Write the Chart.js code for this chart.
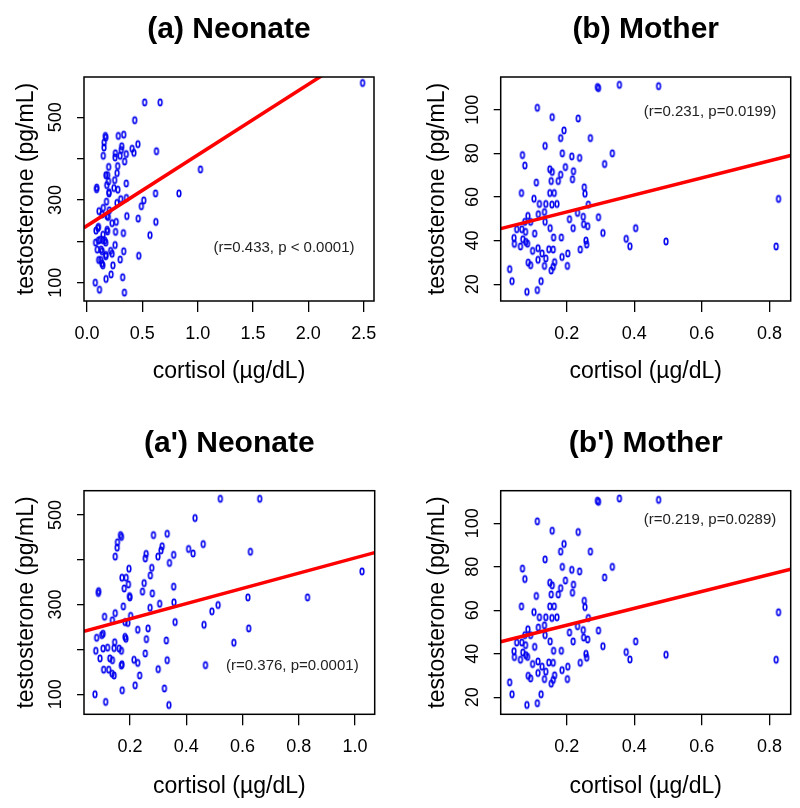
<!DOCTYPE html>
<html>
<head>
<meta charset="utf-8">
<title>Cortisol vs testosterone</title>
<script src="https://cdn.jsdelivr.net/npm/chart.js@4.4.0/dist/chart.umd.min.js"></script>
<style>
  body { margin: 0; background: #fff; }
  #wrap { position: relative; width: 800px; height: 808px; }
  #wrap canvas { position: absolute; }
</style>
</head>
<body>
<div id="wrap">
  <canvas id="chartA" width="400" height="404" style="left:0;top:0"></canvas>
  <canvas id="chartB" width="400" height="404" style="left:400px;top:0"></canvas>
  <canvas id="chartA2" width="400" height="404" style="left:0;top:404px"></canvas>
  <canvas id="chartB2" width="400" height="404" style="left:400px;top:404px"></canvas>
</div>
<script>
// Neonate cortisol (ug/dL) and testosterone (pg/mL)
const neonateCortisol = [0.521, 0.661, 0.431, 0.166, 0.169, 0.155, 0.154, 0.147, 0.283, 0.332,
  0.314, 0.310, 0.299, 0.257, 0.254, 0.355, 0.340, 0.408, 0.424, 0.460,
  0.628, 0.277, 0.272, 0.196, 0.171, 0.186, 0.194, 0.179, 0.250, 0.244,
  0.279, 0.355, 0.198, 0.199, 0.088, 0.087, 1.025, 0.176, 0.147, 0.109,
  0.137, 0.271, 0.305, 0.356, 0.513, 0.491, 0.619, 0.831, 0.182, 0.202,
  0.192, 0.360, 0.463, 0.622, 0.227, 0.264, 0.081, 0.104, 0.099, 0.182,
  0.185, 0.258, 0.329, 0.569, 0.078, 0.104, 0.120, 0.145, 0.143, 0.161,
  0.169, 0.093, 0.128, 0.137, 0.254, 0.332, 0.214, 0.227, 0.171, 0.169,
  0.106, 0.124, 0.136, 0.143, 0.300, 0.468, 0.234, 0.218, 0.172, 0.075,
  0.113, 0.322, 0.338];
const neonateTestosterone = [536, 536, 493, 455, 451, 439, 427, 407, 455, 458,
  430, 421, 407, 413, 403, 411, 393, 424, 414, 435,
  418, 382, 365, 380, 360, 360, 345, 336, 348, 329,
  325, 340, 319, 316, 330, 326, 374, 296, 281, 273,
  265, 293, 302, 305, 299, 285, 316, 316, 261, 275,
  259, 261, 255, 247, 244, 247, 226, 235, 232, 228,
  224, 223, 220, 215, 197, 202, 204, 216, 203, 202,
  197, 180, 180, 176, 191, 176, 177, 170, 167, 164,
  155, 155, 146, 142, 156, 165, 142, 120, 109, 100,
  83, 113, 76];
// extra high-cortisol neonate only shown in panel (a)
const neonateOutlierCortisol = [2.49];
const neonateOutlierTestosterone = [583];

// Mother cortisol (ug/dL) and testosterone (pg/mL)
const motherCortisol = [0.291, 0.294, 0.356, 0.472, 0.113, 0.157, 0.234, 0.192, 0.182, 0.270,
  0.136, 0.069, 0.187, 0.215, 0.238, 0.335, 0.076, 0.150, 0.157, 0.196,
  0.220, 0.312, 0.182, 0.175, 0.154, 0.217, 0.110, 0.252, 0.254, 0.066,
  0.150, 0.163, 0.103, 0.119, 0.138, 0.156, 0.171, 0.264, 0.827, 0.134,
  0.232, 0.085, 0.116, 0.249, 0.294, 0.208, 0.076, 0.093, 0.136, 0.250,
  0.262, 0.219, 0.151, 0.052, 0.067, 0.078, 0.105, 0.307, 0.404, 0.044,
  0.070, 0.079, 0.045, 0.063, 0.084, 0.161, 0.184, 0.376, 0.494, 0.387,
  0.257, 0.259, 0.820, 0.099, 0.115, 0.127, 0.147, 0.160, 0.240, 0.203,
  0.186, 0.115, 0.093, 0.086, 0.138, 0.134, 0.164, 0.202, 0.160, 0.154,
  0.031, 0.038, 0.124, 0.082, 0.113];
const motherTestosterone = [110.4, 109.9, 111.4, 110.8, 100.9, 96.6, 96.0, 90.5, 87.0, 87.0,
  83.4, 79.2, 80.0, 78.6, 77.9, 80.0, 74.4, 72.7, 71.5, 73.7,
  71.8, 75.1, 70.2, 67.3, 67.3, 68.1, 66.6, 64.4, 61.5, 61.8,
  61.8, 61.8, 59.2, 56.8, 56.8, 56.5, 56.8, 56.5, 59.1, 53.1,
  52.7, 51.3, 52.1, 50.9, 50.7, 49.8, 48.6, 48.6, 48.6, 47.5,
  46.6, 45.7, 45.7, 45.2, 45.2, 44.0, 43.2, 43.5, 45.7, 41.2,
  40.6, 39.4, 38.5, 37.3, 38.6, 41.4, 41.4, 40.8, 39.6, 37.4,
  40.0, 38.2, 37.3, 35.3, 36.5, 34.1, 36.0, 35.9, 35.9, 34.1,
  32.5, 31.2, 28.7, 29.9, 31.8, 28.4, 30.1, 28.4, 28.0, 26.3,
  26.9, 21.4, 21.4, 16.5, 17.3];

// per panel: (a), (b), (a'), (b')
const panelTitles = ["(a) Neonate", "(b) Mother", "(a') Neonate", "(b') Mother"];
const statLabels = ["(r=0.433, p < 0.0001)", "(r=0.231, p=0.0199)", "(r=0.376, p=0.0001)", "(r=0.219, p=0.0289)"];
const statX = [1.78, 0.624, 0.777, 0.624];
const statY = [184, 98.9, 163.5, 101.5];
const fitIntercepts = [237.7, 45.3, 234.3, 45.4];
const fitSlopes = [171.1, 39.1, 169.8, 38.8];

// tick values and labels
const neonateAllXTicks = [0, 0.5, 1, 1.5, 2, 2.5];
const neonateAllXLabels = ["0.0", "0.5", "1.0", "1.5", "2.0", "2.5"];
const neonateXTicks = [0.2, 0.4, 0.6, 0.8, 1.0];
const neonateXLabels = ["0.2", "0.4", "0.6", "0.8", "1.0"];
const motherXTicks = [0.2, 0.4, 0.6, 0.8];
const motherXLabels = ["0.2", "0.4", "0.6", "0.8"];
const neonateYTicks = [100, 200, 300, 400, 500];
const neonateYLabels = ["100", "", "300", "", "500"];
const motherYTicks = [20, 40, 60, 80, 100];
const motherYLabels = ["20", "40", "60", "80", "100"];

const FONT = "'Liberation Sans', Arial, Helvetica, sans-serif";
const W = 400, H = 404;

// small open ellipse like R's "o" marker
const ring = document.createElement("canvas");
ring.width = 8;
ring.height = 11;
(function () {
  const g = ring.getContext("2d");
  g.strokeStyle = "#0000ee";
  g.lineWidth = 1.6;
  g.beginPath();
  g.ellipse(4, 5.5, 1.8, 3.1, 0, 0, Math.PI * 2);
  g.stroke();
})();

const framePlugin = {
  id: "frame",
  afterDraw(chart) {
    const { ctx, chartArea: c } = chart;
    ctx.save();
    ctx.strokeStyle = "#000";
    ctx.lineWidth = 1.5;
    ctx.strokeRect(c.left, c.top, c.right - c.left, c.bottom - c.top);
    ctx.restore();
  },
};

const statPlugin = {
  id: "stat",
  afterDatasetsDraw(chart, args, opts) {
    const ctx = chart.ctx;
    ctx.save();
    ctx.fillStyle = "#222";
    ctx.font = "15px " + FONT;
    ctx.textAlign = "center";
    ctx.textBaseline = "middle";
    ctx.fillText(opts.text, chart.scales.x.getPixelForValue(opts.x), chart.scales.y.getPixelForValue(opts.y));
    ctx.restore();
  },
};

function buildPanel(p) {
  const i = p.idx;
  const box = p.box;
  const pts = p.xs.map((x, k) => ({ x: x, y: p.ys[k] }));
  const x0 = p.xRange[0], x1 = p.xRange[1];
  const fit = [
    { x: x0, y: fitIntercepts[i] + fitSlopes[i] * x0 },
    { x: x1, y: fitIntercepts[i] + fitSlopes[i] * x1 },
  ];

  new Chart(document.getElementById(p.canvas), {
    type: "scatter",
    data: {
      datasets: [
        { type: "line", data: fit, borderColor: "#ff0000", borderWidth: 3.5, pointRadius: 0, fill: false, clip: 0 },
        { data: pts, pointStyle: ring, pointRadius: 4, borderColor: "#0000ee", backgroundColor: "#0000ee" },
      ],
    },
    options: {
      responsive: false,
      animation: false,
      events: [],
      layout: { padding: { left: 0, right: W - box.R, top: 0, bottom: 0 } },
      plugins: {
        legend: { display: false },
        tooltip: { enabled: false },
        title: {
          display: true,
          text: panelTitles[i],
          fullSize: false,
          color: "#000",
          font: { family: FONT, size: 30, weight: "bold", lineHeight: 1.2 },
          padding: { top: p.titleY - 18, bottom: box.T - p.titleY - 18 },
        },
        stat: { text: statLabels[i], x: statX[i], y: statY[i] },
      },
      scales: {
        x: {
          type: "linear",
          min: x0,
          max: x1,
          afterFit: (s) => { s.height = H - box.B; },
          afterBuildTicks: (s) => { s.ticks = p.xTicks.map((v) => ({ value: v })); },
          ticks: {
            callback: (v, k) => p.xLabels[k],
            autoSkip: false,
            maxRotation: 0,
            padding: 11,
            color: "#000",
            font: { family: FONT, size: 18 },
          },
          grid: { drawOnChartArea: false, tickLength: 11, color: "#000", lineWidth: 1.3 },
          border: { display: false },
          title: {
            display: true,
            text: "cortisol (\u00b5g/dL)",
            color: "#000",
            font: { family: FONT, size: 23, lineHeight: 1.2 },
            padding: { top: 0, bottom: H - p.xTitleY - 13.8 },
          },
        },
        y: {
          type: "linear",
          min: p.yRange[0],
          max: p.yRange[1],
          afterFit: (s) => { s.width = box.L; },
          afterBuildTicks: (s) => { s.ticks = p.yTicks.map((v) => ({ value: v })); },
          ticks: {
            callback: (v, k) => p.yLabels[k],
            autoSkip: false,
            minRotation: 90,
            maxRotation: 90,
            crossAlign: "center",
            padding: 6,
            color: "#000",
            font: { family: FONT, size: 18 },
          },
          grid: { drawOnChartArea: false, tickLength: 7, color: "#000", lineWidth: 1.3 },
          border: { display: false },
          title: {
            display: true,
            text: "testosterone (pg/mL)",
            color: "#000",
            font: { family: FONT, size: 23, lineHeight: 1.2 },
            padding: { top: p.yTitleX - 13.8, bottom: 0 },
          },
        },
      },
    },
    plugins: [framePlugin, statPlugin],
  });
}

// panel placement inside each 400x404 canvas
const panels = [
  {
    canvas: "chartA", idx: 0,
    xs: neonateCortisol.concat(neonateOutlierCortisol),
    ys: neonateTestosterone.concat(neonateOutlierTestosterone),
    xRange: [-0.027, 2.593], yRange: [55.7, 597.5],
    xTicks: neonateAllXTicks, xLabels: neonateAllXLabels,
    yTicks: neonateYTicks, yLabels: neonateYLabels,
    box: { L: 84, T: 77, R: 374, B: 301 }, titleY: 30, xTitleY: 372, yTitleX: 27,
  },
  {
    canvas: "chartB", idx: 1,
    xs: motherCortisol, ys: motherTestosterone,
    xRange: [0.0045, 0.863], yRange: [12.3, 115],
    xTicks: motherXTicks, xLabels: motherXLabels,
    yTicks: motherYTicks, yLabels: motherYLabels,
    box: { L: 100.7, T: 77, R: 390.7, B: 301 }, titleY: 30, xTitleY: 372, yTitleX: 37.5,
  },
  {
    canvas: "chartA2", idx: 2,
    xs: neonateCortisol, ys: neonateTestosterone,
    xRange: [0.036, 1.07], yRange: [55.4, 554],
    xTicks: neonateXTicks, xLabels: neonateXLabels,
    yTicks: neonateYTicks, yLabels: neonateYLabels,
    box: { L: 84, T: 86.7, R: 374.7, B: 310.3 }, titleY: 40, xTitleY: 382.7, yTitleX: 27,
  },
  {
    canvas: "chartB2", idx: 3,
    xs: motherCortisol, ys: motherTestosterone,
    xRange: [0.0045, 0.863], yRange: [12.2, 115],
    xTicks: motherXTicks, xLabels: motherXLabels,
    yTicks: motherYTicks, yLabels: motherYLabels,
    box: { L: 100.7, T: 86.7, R: 390.7, B: 310.3 }, titleY: 40, xTitleY: 382.7, yTitleX: 37.5,
  },
];

if (typeof Chart !== "undefined") {
  panels.forEach(buildPanel);
} else {
  console.warn("Chart.js is not loaded; skipping charts");
}
</script>
</body>
</html>
